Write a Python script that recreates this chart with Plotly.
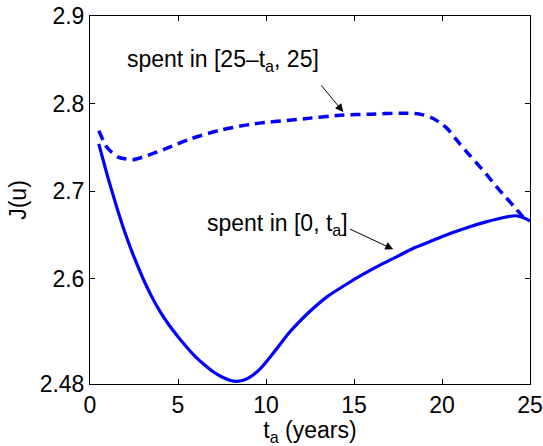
import plotly.graph_objects as go

# Data
t_solid = [0.5, 1.0, 1.5, 2.0, 2.5, 3.0, 3.5, 4.0, 4.5, 5.0, 5.5, 6.0, 6.5, 7.0, 7.5, 8.0,
           8.3, 8.75, 9.25, 9.75, 10.25, 10.75, 11.25, 11.75, 12.5, 13.5, 14.5, 15.5, 16.5,
           17.5, 18.5, 19.5, 20.5, 21.5, 22.5, 23.5, 24.2, 24.6, 25.0]
J_solid = [2.754, 2.717, 2.683, 2.652, 2.625, 2.601, 2.580, 2.562, 2.547, 2.534, 2.522,
           2.511, 2.502, 2.494, 2.488, 2.484, 2.483, 2.4845, 2.490, 2.499, 2.511, 2.524,
           2.537, 2.548, 2.563, 2.580, 2.593, 2.605, 2.616, 2.626, 2.636, 2.644, 2.652,
           2.659, 2.665, 2.670, 2.672, 2.670, 2.666]

t_dash = [0.5, 0.93, 1.2, 1.6, 2.0, 2.44, 3.3, 4.24, 5.76, 7.46, 9.36, 11.8, 14.4, 16.0,
          17.6, 18.75, 19.5, 20.27, 20.83, 21.4, 21.97, 22.54, 23.1, 23.68, 24.24, 24.6]
J_dash = [2.769, 2.751, 2.745, 2.739, 2.737, 2.736, 2.741, 2.748, 2.760, 2.770, 2.777,
          2.782, 2.787, 2.788, 2.789, 2.788, 2.783, 2.772, 2.7585, 2.745, 2.732, 2.719,
          2.705, 2.692, 2.679, 2.671]

x_ticks = [0, 5, 10, 15, 20, 25]
y_ticks = [2.48, 2.6, 2.7, 2.8, 2.9]
y_ticklabels = ["2.48", "2.6", "2.7", "2.8", "2.9"]

BLUE = "#0000FF"
FONT = "Liberation Sans, Arial, Helvetica, sans-serif"
FS = 23

fig = go.Figure()
fig.add_trace(go.Scatter(x=t_solid, y=J_solid, mode="lines",
                         line=dict(color=BLUE, width=3.2, shape="spline", smoothing=0.6),
                         showlegend=False))
fig.add_trace(go.Scatter(x=t_dash, y=J_dash, mode="lines",
                         line=dict(color=BLUE, width=3.5, dash="10px,6px", shape="spline",
                                   smoothing=0.8),
                         showlegend=False))

# Text labels
fig.add_annotation(x=2.0, y=2.849, xref="x", yref="y", text="spent in [25\u2013t<sub>a</sub>, 25]",
                   showarrow=False, xanchor="left", yanchor="middle",
                   font=dict(family=FONT, size=FS, color="black"))
fig.add_annotation(x=6.55, y=2.662, xref="x", yref="y", text="spent in [0, t<sub>a</sub>]",
                   showarrow=False, xanchor="left", yanchor="middle",
                   font=dict(family=FONT, size=FS, color="black"))
# Arrows
fig.add_annotation(x=14.39, y=2.7905, ax=13.07, ay=2.8225, xref="x", yref="y",
                   axref="x", ayref="y", text="", showarrow=True, arrowhead=2,
                   arrowsize=1.6, arrowwidth=1, arrowcolor="black")
fig.add_annotation(x=17.23, y=2.6337, ax=14.68, ay=2.6577, xref="x", yref="y",
                   axref="x", ayref="y", text="", showarrow=True, arrowhead=2,
                   arrowsize=1.6, arrowwidth=1, arrowcolor="black")

axis_common = dict(showgrid=False, zeroline=False, showline=True, linecolor="black",
                   linewidth=1, mirror="ticks", ticks="inside", ticklen=5,
                   tickcolor="black", tickwidth=1,
                   tickfont=dict(family=FONT, size=FS, color="black"))

fig.update_xaxes(range=[0, 25], tickvals=x_ticks, ticktext=[str(v) for v in x_ticks],
                 title=dict(text="t<sub>a</sub> (years)", standoff=0,
                            font=dict(family=FONT, size=FS, color="black")),
                 **axis_common)
fig.update_yaxes(range=[2.48, 2.9], tickvals=y_ticks, ticktext=y_ticklabels,
                 title=dict(text="J(u)", standoff=6,
                            font=dict(family=FONT, size=FS, color="black")),
                 **axis_common)

fig.update_layout(width=543, height=446, margin=dict(l=90, r=13, t=16, b=62, autoexpand=False),
                  plot_bgcolor="white", paper_bgcolor="white")

fig.write_html("out.html")
